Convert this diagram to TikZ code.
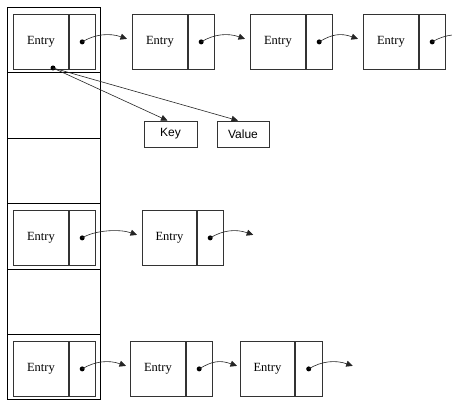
\documentclass[tikz,border=0pt]{standalone}
\usepackage{fontspec}
\setmainfont{Liberation Serif}
\setsansfont{Liberation Sans}
\usetikzlibrary{arrows.meta,calc}
\begin{document}
\begin{tikzpicture}[x=1pt,y=-1pt,
  entl/.style={draw=black!80,line width=0.8pt,rectangle,anchor=north west,minimum width=55pt,minimum height=55pt,inner sep=0pt,font=\rmfamily\fontsize{12.5}{14}\selectfont},
  entr/.style={draw=black!80,line width=0.8pt,rectangle,anchor=north west,minimum width=26pt,minimum height=55pt,inner sep=0pt},
  kv/.style={draw=black!80,line width=0.8pt,rectangle,minimum width=53pt,minimum height=26pt,inner sep=0pt,font=\sffamily\fontsize{12}{14}\selectfont},
  pdot/.style={circle,fill=black,inner sep=0pt,minimum size=5pt},
  link/.style={black!85,line width=0.6pt,-{Triangle[length=6.5pt,width=6pt]}},
  col/.style={draw=black,line width=0.9pt}]
\clip (0,0) rectangle (452,406);
\fill[white] (0,0) rectangle (452,406);
% bucket column
\draw[col] (7,7) rectangle (100,399);
\foreach \yy in {72,138,203,269,334} \draw[col] (7,\yy) -- (100,\yy);
% row 1
\node[entl] (a1) at (13,14) {Entry};
\node[entr] (a1r) at (a1.north east) {};
\node[entl] (a2) at (132,14) {Entry};
\node[entr] (a2r) at (a2.north east) {};
\node[entl] (a3) at (250,14) {Entry};
\node[entr] (a3r) at (a3.north east) {};
\node[entl] (a4) at (363,14) {Entry};
\node[entr] (a4r) at (a4.north east) {};
\node[pdot] (da1) at (a1r.center) {};
\node[pdot] (da2) at (a2r.center) {};
\node[pdot] (da3) at (a3r.center) {};
\node[pdot] (da4) at (a4r.center) {};
\coordinate (ta2) at ($(a2.west)+(-5,-3)$);
\coordinate (ta3) at ($(a3.west)+(-5,-3)$);
\coordinate (ta4) at ($(a4.west)+(-5,-3)$);
\coordinate (ta5) at ($(da4.center)+(46,-3)$);
\draw[link] (da1.center) .. controls +(13,-8) and +(-17,-6) .. (ta2);
\draw[link] (da2.center) .. controls +(13,-8) and +(-17,-6) .. (ta3);
\draw[link] (da3.center) .. controls +(13,-8) and +(-17,-6) .. (ta4);
\draw[link] (da4.center) .. controls +(13,-8) and +(-17,-6) .. (ta5);
% key / value
\node[kv] (key) at (170.5,134) {Key};
\node[kv,minimum width=52pt] (val) at (243,134) {Value};
\node[pdot] (dk) at (53,68) {};
\draw[link] (dk.center) -- ($(key.north)+(-3,0)$);
\draw[link] (dk.center) -- ($(val.north)+(-5,0)$);
% row 3
\node[entl] (b1) at (13,210) {Entry};
\node[entr] (b1r) at (b1.north east) {};
\node[entl,minimum width=54pt] (b2) at (142,210) {Entry};
\node[entr] (b2r) at (b2.north east) {};
\node[pdot] (db1) at (b1r.center) {};
\node[pdot] (db2) at (b2r.center) {};
\coordinate (tb2) at ($(b2.west)+(-5,-3)$);
\coordinate (tb3) at ($(db2.center)+(43,-3)$);
\draw[link] (db1.center) .. controls +(13,-8) and +(-17,-6) .. (tb2);
\draw[link] (db2.center) .. controls +(13,-8) and +(-17,-6) .. (tb3);
% row 4
\node[entl] (c1) at (13,341) {Entry};
\node[entr] (c1r) at (c1.north east) {};
\node[entl] (c2) at (130,341) {Entry};
\node[entr] (c2r) at (c2.north east) {};
\node[entl,minimum width=54pt] (c3) at (240,341) {Entry};
\node[entr,minimum width=27pt] (c3r) at (c3.north east) {};
\node[pdot] (dc1) at (c1r.center) {};
\node[pdot] (dc2) at (c2r.center) {};
\node[pdot] (dc3) at (c3r.center) {};
\coordinate (tc2) at ($(c2.west)+(-4,-3)$);
\coordinate (tc3) at ($(c3.west)+(-3,-3)$);
\coordinate (tc4) at ($(dc3.center)+(44,-3)$);
\draw[link] (dc1.center) .. controls +(13,-8) and +(-17,-6) .. (tc2);
\draw[link] (dc2.center) .. controls +(13,-8) and +(-17,-6) .. (tc3);
\draw[link] (dc3.center) .. controls +(13,-8) and +(-17,-6) .. (tc4);
\end{tikzpicture}
\end{document}
